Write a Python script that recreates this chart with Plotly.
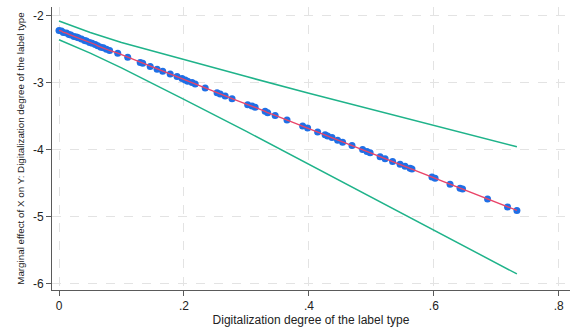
import plotly.graph_objects as go

# Digitalization degree (moderator) values at which the marginal effect is evaluated
digit_x = [0.000, 0.004, 0.007, 0.012, 0.016, 0.019, 0.024, 0.028, 0.031, 0.036,
           0.041, 0.044, 0.049, 0.053, 0.058, 0.062, 0.067, 0.071, 0.076, 0.081,
           0.094, 0.110, 0.130, 0.134, 0.146, 0.157, 0.166, 0.178, 0.189, 0.197,
           0.202, 0.206, 0.213, 0.218, 0.234, 0.253, 0.258, 0.266, 0.277, 0.302,
           0.309, 0.314, 0.330, 0.334, 0.346, 0.365, 0.390, 0.398, 0.414, 0.426,
           0.430, 0.437, 0.446, 0.454, 0.469, 0.486, 0.493, 0.498, 0.514, 0.522,
           0.534, 0.546, 0.554, 0.562, 0.565, 0.597, 0.602, 0.626, 0.642, 0.646,
           0.686, 0.718, 0.733]

# Estimated marginal effect of X on Y at each value above
marg_eff = [-2.22, -2.23, -2.25, -2.26, -2.28, -2.29, -2.31, -2.32, -2.33, -2.35,
            -2.37, -2.38, -2.40, -2.41, -2.43, -2.45, -2.47, -2.48, -2.50, -2.52,
            -2.56, -2.62, -2.70, -2.71, -2.76, -2.80, -2.83, -2.87, -2.91, -2.94,
            -2.96, -2.98, -3.00, -3.02, -3.08, -3.15, -3.17, -3.20, -3.24, -3.33,
            -3.35, -3.37, -3.43, -3.45, -3.49, -3.56, -3.65, -3.68, -3.74, -3.78,
            -3.80, -3.82, -3.86, -3.89, -3.94, -4.00, -4.03, -4.05, -4.11, -4.14,
            -4.18, -4.22, -4.25, -4.28, -4.29, -4.41, -4.43, -4.52, -4.58, -4.59,
            -4.74, -4.86, -4.91]

# 95% confidence band
ci_x = [0.0, 0.05, 0.1, 0.15, 0.2, 0.3, 0.4, 0.5, 0.6, 0.7, 0.733]
ci_upper = [-2.08, -2.25, -2.40, -2.53, -2.66, -2.91, -3.16, -3.40, -3.64, -3.88, -3.96]
ci_lower = [-2.36, -2.56, -2.78, -3.01, -3.25, -3.73, -4.22, -4.71, -5.20, -5.70, -5.86]

x_ticks = [0, 0.2, 0.4, 0.6, 0.8]
x_tick_text = ["0", ".2", ".4", ".6", ".8"]
y_ticks = [-2, -3, -4, -5, -6]
y_tick_text = ["-2", "-3", "-4", "-5", "-6"]

GREEN = "#1fb38a"
RED = "#ea4468"
BLUE = "#1f6fe6"
GRID = "#e3e3e3"
AXIS = "#5a5a5a"
FONT = "Liberation Sans, Arial, sans-serif"

fig = go.Figure()
fig.add_trace(go.Scatter(x=ci_x, y=ci_upper, mode="lines",
                         line=dict(color=GREEN, width=1.5), showlegend=False))
fig.add_trace(go.Scatter(x=ci_x, y=ci_lower, mode="lines",
                         line=dict(color=GREEN, width=1.5), showlegend=False))
fig.add_trace(go.Scatter(x=digit_x, y=marg_eff, mode="markers",
                         marker=dict(color=BLUE, size=7, line=dict(width=0)),
                         showlegend=False))
fig.add_trace(go.Scatter(x=digit_x, y=marg_eff, mode="lines",
                         line=dict(color=RED, width=1.3), showlegend=False))

fig.update_layout(
    width=572, height=333,
    margin=dict(l=52, r=2, t=7, b=43),
    paper_bgcolor="white", plot_bgcolor="white",
    font=dict(family=FONT, color="#222", size=12),
    xaxis=dict(
        range=[-0.0112, 0.818],
        tickmode="array", tickvals=x_ticks, ticktext=x_tick_text,
        ticks="outside", ticklen=5, tickcolor=AXIS, tickwidth=1,
        showline=True, linecolor=AXIS, linewidth=1,
        showgrid=True, gridcolor=GRID, griddash="dash", gridwidth=1,
        zeroline=False,
        tickfont=dict(size=12, color="#222"),
        title=dict(text="Digitalization degree of the label type",
                   font=dict(size=12, color="#222"), standoff=2),
    ),
    yaxis=dict(
        range=[-6.1, -1.87],
        tickmode="array", tickvals=y_ticks, ticktext=y_tick_text,
        ticks="outside", ticklen=5, tickcolor=AXIS, tickwidth=1,
        showline=True, linecolor=AXIS, linewidth=1,
        showgrid=True, gridcolor=GRID, griddash="dash", gridwidth=1,
        zeroline=False,
        tickfont=dict(size=12, color="#222"),
        title=dict(text="Marginal effect of X on Y: Digitalization degree of the label type",
                   font=dict(size=9.8, color="#222"), standoff=6),
    ),
)

fig.write_html("out.html")
